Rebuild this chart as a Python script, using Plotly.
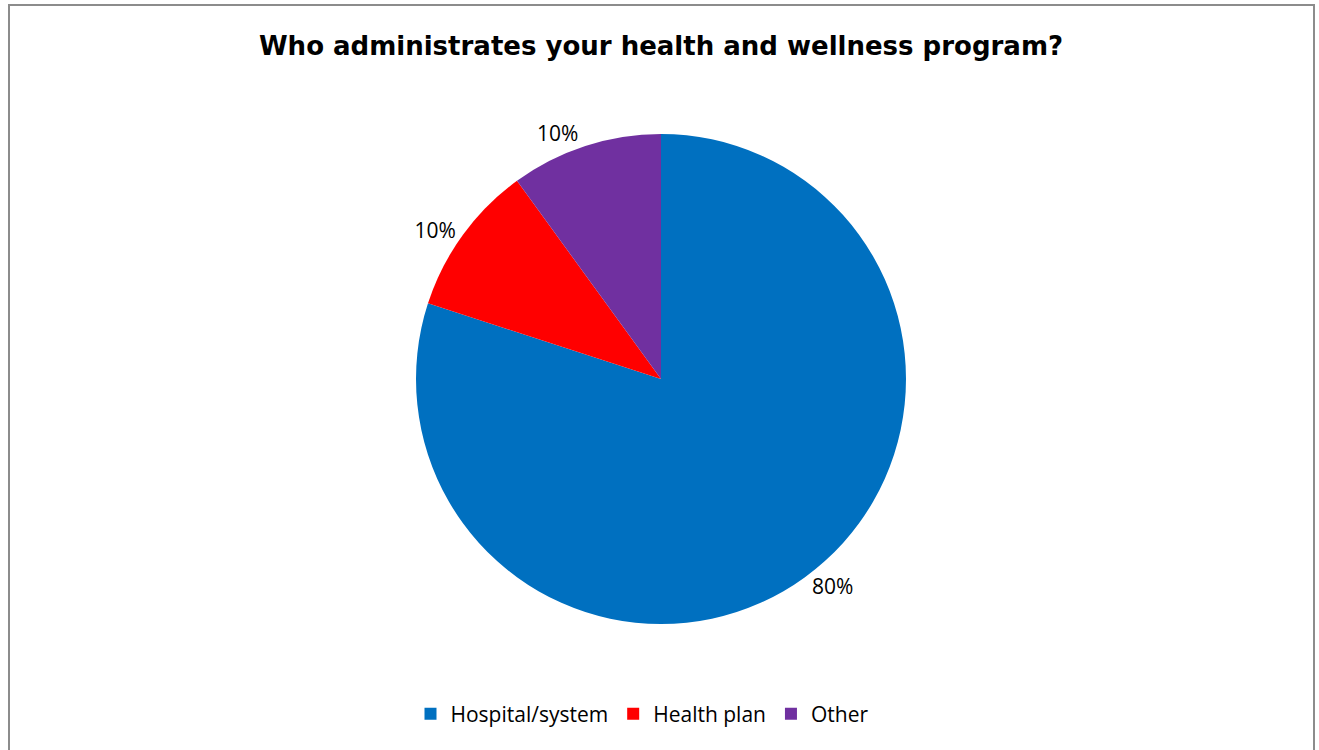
import plotly.graph_objects as go

# Survey responses: who administers the health and wellness program
categories = ["Hospital/system", "Health plan", "Other"]
shares = [80, 10, 10]
slice_colors = ["#0070C0", "#FF0000", "#7030A0"]

W, H = 1319, 750
FONT = "'Open Sans', Lato, sans-serif"
TITLE_FONT = "'DejaVu Sans', 'Open Sans', sans-serif"

# pie centred at (661, 379) px with a radius of about 245 px
cx, cy, r = 661 / W, 1 - 379 / H, 245 / H
rx = 265 / W

fig = go.Figure()
fig.add_trace(go.Pie(
    labels=categories,
    values=shares,
    sort=False,
    direction="clockwise",
    rotation=0,
    marker=dict(colors=slice_colors, line=dict(color="white", width=0)),
    texttemplate="%{percent:.0%}",
    textposition="outside",
    outsidetextfont=dict(size=21, color="#000000", family=FONT),
    hoverinfo="label+percent",
    domain=dict(x=[cx - rx, cx + rx], y=[cy - r, cy + r]),
    showlegend=True,
))

fig.update_layout(
    width=W,
    height=H,
    margin=dict(l=0, r=0, t=0, b=0),
    paper_bgcolor="white",
    plot_bgcolor="white",
    title=dict(
        text="<b>Who administrates your health and wellness program?</b>",
        x=661 / W, xanchor="center",
        y=1 - 46 / H, yanchor="middle",
        font=dict(size=26, color="#000000", family=TITLE_FONT),
    ),
    legend=dict(
        orientation="h",
        x=642 / W, xanchor="center",
        y=1 - 714 / H, yanchor="middle",
        font=dict(size=21, color="#000000", family=FONT),
        itemwidth=30,
        traceorder="normal",
    ),
    shapes=[dict(
        type="rect", xref="paper", yref="paper",
        x0=9 / W, x1=1314 / W, y0=-0.02, y1=1 - 5 / H,
        line=dict(color="#8C8C8C", width=2),
        fillcolor="rgba(0,0,0,0)",
        layer="below",
    )],
)

fig.write_html("out.html")
